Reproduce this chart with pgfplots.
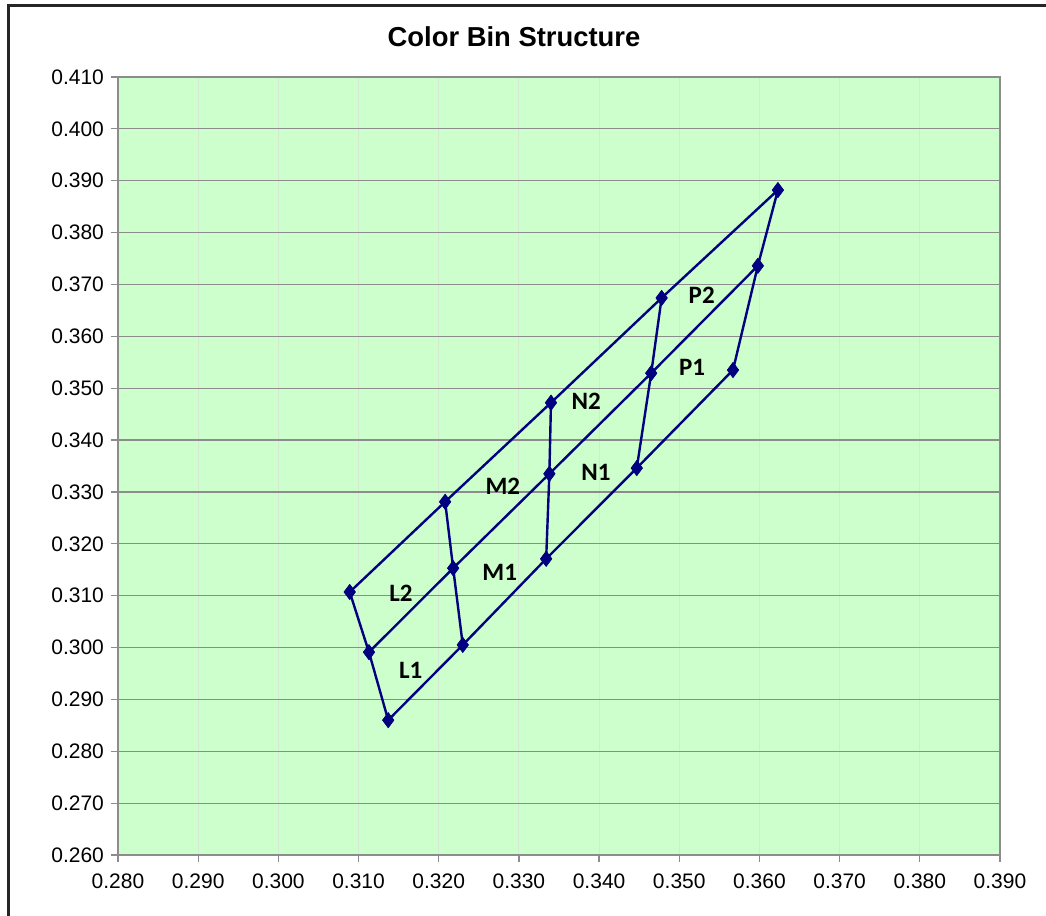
\documentclass[border=0pt]{standalone}
\usepackage{pgfplots}
\pgfplotsset{compat=1.18}
\usepackage{fontspec}
\setmainfont{Liberation Sans}
\newfontfamily\calib{Carlito}
\definecolor{bg}{HTML}{CCFFCC}
\definecolor{ln}{HTML}{000080}
\definecolor{gridv}{HTML}{D4E8D4}
\definecolor{gridh}{HTML}{8C8C8C}
\tikzset{binline/.style={draw=ln, solid, line width=1.2pt, mark=diamond*, mark size=3pt, mark options={fill=ln, draw=ln, solid}}}
\begin{document}
\begin{tikzpicture}
\begin{axis}[
  name=ax,
  scale only axis,
  width=441pt, height=389pt,
  xmin=0.280, xmax=0.390, ymin=0.260, ymax=0.410,
  xtick distance=0.01, ytick distance=0.01,
  xtick pos=bottom, ytick pos=left,
  axis background/.style={fill=bg},
  axis line style={draw=gridh, line width=0.8pt},
  tick align=outside, tick style={draw=gridh, line width=0.6pt},
  major tick length=3.5pt,
  xmajorgrids, ymajorgrids,
  x grid style={draw=gridv, line width=0.5pt},
  y grid style={draw=gridh, line width=0.6pt},
  /pgf/number format/assume math mode=true,
  /pgf/number format/.cd, fixed, fixed zerofill, precision=3,
  /pgfplots/.cd,
  tick label style={font=\fontsize{10.5}{12}\selectfont},
  xticklabel style={yshift=-2.5pt},
  scaled ticks=false,
  clip=false,
]
% rows
\addplot[binline] coordinates {(0.3089,0.3107) (0.3208,0.3281) (0.3340,0.3472) (0.3478,0.3674) (0.3623,0.3882)};
\addplot[binline] coordinates {(0.3113,0.2991) (0.3218,0.3153) (0.3338,0.3335) (0.3465,0.3529) (0.3598,0.3736)};
\addplot[binline] coordinates {(0.3137,0.2860) (0.3230,0.3005) (0.3334,0.3171) (0.3447,0.3346) (0.3567,0.3535)};
% columns
\addplot[binline] coordinates {(0.3089,0.3107) (0.3113,0.2991) (0.3137,0.2860)};
\addplot[binline] coordinates {(0.3208,0.3281) (0.3218,0.3153) (0.3230,0.3005)};
\addplot[binline] coordinates {(0.3340,0.3472) (0.3338,0.3335) (0.3334,0.3171)};
\addplot[binline] coordinates {(0.3478,0.3674) (0.3465,0.3529) (0.3447,0.3346)};
\addplot[binline] coordinates {(0.3623,0.3882) (0.3598,0.3736) (0.3567,0.3535)};
% labels
\begin{scope}[every node/.style={font=\calib\bfseries\fontsize{12.5}{14}\selectfont, inner sep=0pt}]
\node at (axis cs:0.3153,0.3105) {L2};
\node at (axis cs:0.3165,0.2955) {L1};
\node at (axis cs:0.3276,0.3144) {M1};
\node at (axis cs:0.3280,0.3311) {M2};
\node at (axis cs:0.3384,0.3475) {N2};
\node at (axis cs:0.3396,0.3338) {N1};
\node at (axis cs:0.3528,0.3680) {P2};
\node at (axis cs:0.3516,0.3541) {P1};
\end{scope}
\end{axis}
\path[use as bounding box] ([shift={(-59pt,-30.5pt)}]ax.south west) rectangle ([shift={(-59pt,-30.5pt)}]ax.south west) ++(523pt,458pt);
\draw[line width=1.5pt, draw=black!85] ([shift={(-54.5pt,-32pt)}]ax.south west) -- ([shift={(-54.5pt,424.5pt)}]ax.south west) -- ([shift={(466pt,424.5pt)}]ax.south west);
\node[font=\bfseries\fontsize{13.7}{16}\selectfont, anchor=center] at ([shift={(198pt,409pt)}]ax.south west) {Color Bin Structure};
\end{tikzpicture}
\end{document}
